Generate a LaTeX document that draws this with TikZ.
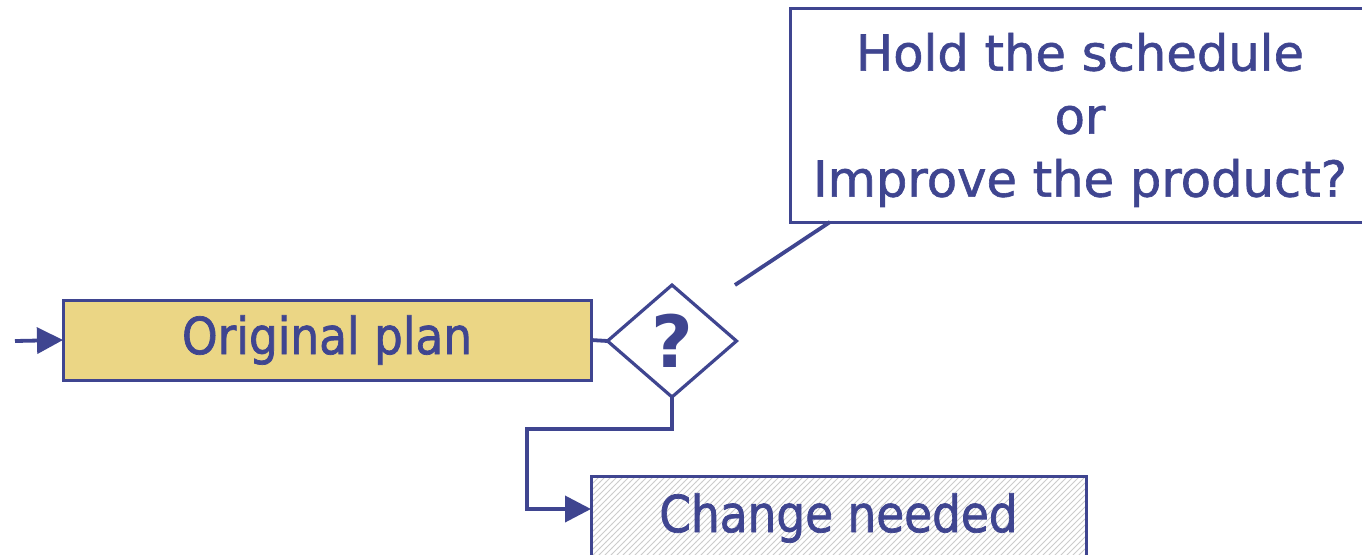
\documentclass[tikz,border=0pt]{standalone}
\usepackage{fontspec}
\setmainfont{DejaVu Sans}
\newfontfamily\lblfont{DejaVu Sans}[FakeBold=1.2]
\newfontfamily\lblcfont{DejaVu Sans}[FakeBold=1.4,FakeStretch=0.89]
\newfontfamily\qfont{DejaVu Sans Bold}
\usetikzlibrary{shapes.geometric,arrows.meta,patterns}
\definecolor{navy}{HTML}{3F4590}
\definecolor{planfill}{HTML}{EBD685}
\tikzset{
  txt/.style={font=\lblfont\fontsize{24.8}{31.5}\selectfont, text=navy, inner sep=0pt, outer sep=0pt},
  ctxt/.style={font=\lblcfont\fontsize{25.5}{31.5}\selectfont, text=navy, inner sep=0pt, outer sep=0pt},
  boxstyle/.style={draw=navy, line width=1.5pt, rectangle},
  conn/.style={draw=navy, line width=1.9pt},
  arr/.style={conn, -{Triangle[length=13pt,width=13pt]}},
}
\begin{document}
\begin{tikzpicture}[x=0.5pt,y=-0.5pt]
\useasboundingbox (0,0) rectangle (1362,554);
\clip (0,0) rectangle (1362,554);
\fill[white] (0,0) rectangle (1362,554);
\node[ctxt, boxstyle, fill=planfill, minimum width=264pt, minimum height=40pt] (plan) at (327,340) {Original plan};
\node[draw=navy, line width=1.6pt, shape=diamond, inner sep=0pt, outer sep=0pt, text=navy, font=\qfont\fontsize{36}{40}\selectfont, minimum width=64.5pt, minimum height=56pt] (q) at (672,341) {?};
\node[ctxt, boxstyle, pattern=north east lines, pattern color=gray!40, minimum width=247.5pt, minimum height=42pt] (change) at (838.5,518) {Change needed};
\node[txt, boxstyle, align=center, minimum width=290pt, minimum height=107pt] (call) at (1080,115) {\rule{0pt}{23.8pt}Hold the schedule\\or\\Improve the product?};
\coordinate (in) at (15,341);
\coordinate (cend) at (735,285);
\draw[arr] (in) -- (plan.west);
\draw[conn] (plan.east) -- (q.west);
\draw[arr] (q.south) -- ++(0,32) -| ++(-145,80) -- ([yshift=4.5pt]change.west);
\draw[conn] (cend) -- ([xshift=20pt]call.south west);
\end{tikzpicture}
\end{document}
